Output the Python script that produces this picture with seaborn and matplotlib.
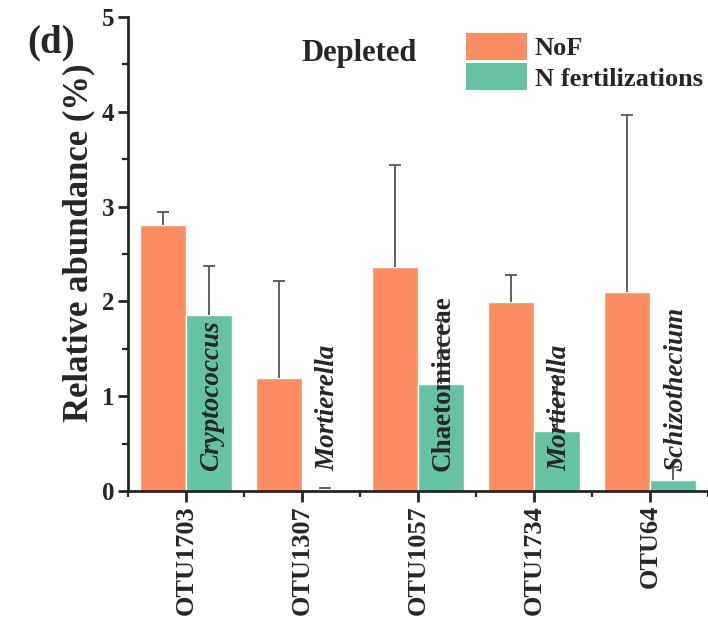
import numpy as np
import pandas as pd
import seaborn as sns
import matplotlib.pyplot as plt
from matplotlib.patches import Patch
from matplotlib.ticker import MultipleLocator

# values
otus = ["OTU1703", "OTU1307", "OTU1057", "OTU1734", "OTU64"]
taxa = ["Cryptococcus", "Mortierella", "Chaetomiaceae", "Mortierella", "Schizothecium"]
taxa_italic = [True, True, False, True, True]
nof_mean = [2.81, 1.19, 2.36, 1.99, 2.10]
nof_err = [0.13, 1.02, 1.08, 0.29, 1.87]
nfert_mean = [1.86, 0.02, 1.13, 0.63, 0.12]
nfert_err = [0.51, 0.01, 0.67, 0.57, 0.13]
groups = ["NoF", "N fertilizations"]
colors = ["#FC8D62", "#66C2A5"]

sns.set_style("ticks")
plt.rcParams["font.family"] = ["Liberation Serif", "DejaVu Serif"]
plt.rcParams["font.weight"] = "bold"

df = pd.DataFrame({
    "otu": otus * 2,
    "group": [groups[0]] * len(otus) + [groups[1]] * len(otus),
    "value": nof_mean + nfert_mean,
})

fig = plt.figure(figsize=(7.08, 6.2), dpi=100)
ax = fig.add_axes([128 / 708, 129 / 620, 580 / 708, 474 / 620])

sns.barplot(data=df, x="otu", y="value", hue="group", palette=colors,
            order=otus, hue_order=groups, width=0.8, errorbar=None,
            saturation=1, legend=False, ax=ax)

# upper-only error bars at the bar centres (no cap at the bar top)
bars = ax.patches
errs = nof_err + nfert_err
for p, e in zip(bars, errs):
    xc = p.get_x() + p.get_width() / 2
    eb = ax.errorbar(xc, p.get_height(), yerr=[[0], [e]], fmt="none",
                     ecolor="#555555", elinewidth=1.3, capsize=4, capthick=1.3, zorder=3)
    eb[1][0].set_visible(False)

# taxon names on the N-fertilization bars
for i, (t, it) in enumerate(zip(taxa, taxa_italic)):
    p = bars[len(otus) + i]
    ax.text(p.get_x() + p.get_width() / 2 + 0.02, 0.21, t, rotation=90, ha="center", va="bottom",
            fontsize=19.5, fontweight="bold", fontstyle="italic" if it else "normal", zorder=4)

ax.set_xlim(-0.5, 4.43)
ax.set_ylim(0, 5)
ax.yaxis.set_major_locator(MultipleLocator(1))
ax.yaxis.set_minor_locator(MultipleLocator(0.5))
ax.set_xticks(range(len(otus)))
ax.set_xticklabels(otus, rotation=90, fontsize=19, fontweight="bold")
ax.set_xticks(np.arange(-0.5, len(otus), 1), minor=True)
ax.tick_params(axis="y", labelsize=18, width=2, length=7, pad=3)
ax.tick_params(axis="y", which="minor", width=1.6, length=4)
ax.tick_params(axis="x", width=2, length=8, pad=2)
ax.tick_params(axis="x", which="minor", width=1.6, length=4)
for lab in ax.get_yticklabels():
    lab.set_fontweight("bold")

ax.set_xlabel("")
ax.set_ylabel("Relative abundance (%)", fontsize=25, fontweight="bold")
ax.yaxis.set_label_coords(-0.057, 0.524)
sns.despine(ax=ax)
for s in ["left", "bottom"]:
    ax.spines[s].set_linewidth(2)

fig.text(359 / 708, 1 - 53 / 620, "Depleted", ha="center", va="center",
         fontsize=22, fontweight="bold")
fig.text(27 / 708, 1 - 43 / 620, "(d)", ha="left", va="center",
         fontsize=28, fontweight="bold")

handles = [Patch(facecolor=c, edgecolor="none") for c in colors]
fig.legend(handles, groups, loc="upper left", bbox_to_anchor=(466 / 708, 1 - 33 / 620),
           frameon=False, handlelength=2.3, handleheight=1.2,
           handletextpad=0.3, labelspacing=0.1, borderpad=0, borderaxespad=0,
           prop={"weight": "bold", "size": 19})

fig.savefig("out.png", dpi=100)
